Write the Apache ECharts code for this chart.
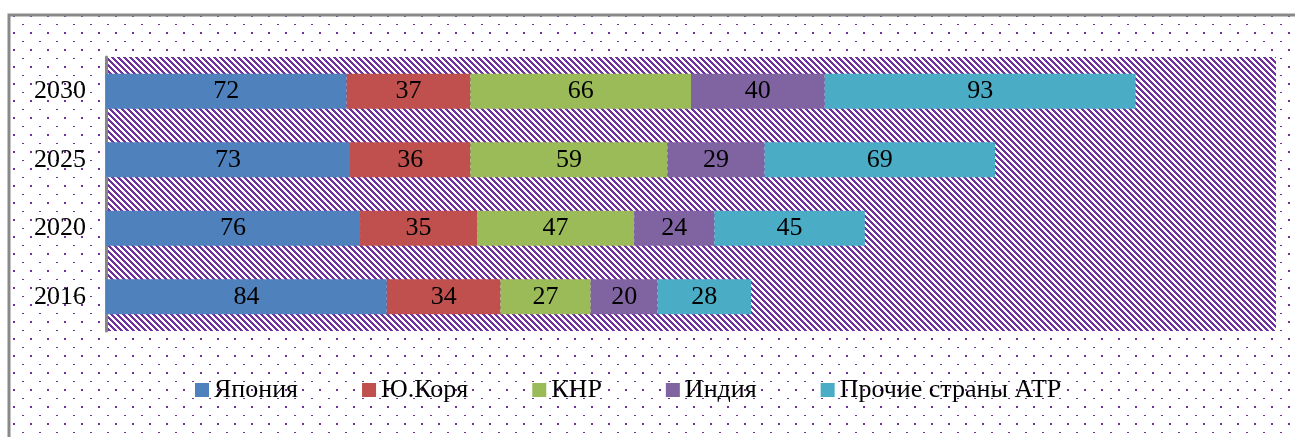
<!DOCTYPE html>
<html>
<head>
<meta charset="utf-8">
<script src="https://cdn.jsdelivr.net/npm/echarts@6/dist/echarts.min.js"></script>
<style>
	html, body { margin: 0; padding: 0; background: #fff; }
	#chart { width: 1295px; height: 437px; }
</style>
</head>
<body>
<div id="chart"></div>
<script>
"use strict";

var years = ['2016', '2020', '2025', '2030'];
var seriesNames = ['Япония', 'Ю.Коря', 'КНР', 'Индия', 'Прочие страны АТР'];
var japan = [84, 76, 73, 72];
var korea = [34, 35, 36, 37];
var china = [27, 47, 59, 66];
var india = [20, 24, 29, 40];
var others = [28, 45, 69, 93];

var colors = ['#4F81BD', '#C0504D', '#9BBB59', '#8064A2', '#4BACC6'];
var purple = '#7030A0';
var fontFamily = '"Liberation Serif", "Times New Roman", serif';

// dotted fill of the outer chart area
function makeDots() {
	var c = document.createElement('canvas');
	c.width = 17;
	c.height = 17;
	var ctx = c.getContext('2d');
	ctx.fillStyle = '#fff';
	ctx.fillRect(0, 0, 17, 17);
	ctx.fillStyle = purple;
	ctx.fillRect(5, 7, 2, 1);
	ctx.fillRect(13, 15, 2, 2);
	return c;
}

// diagonal stripes of the plot area, drawn pixel by pixel so they stay crisp
function makeStripes() {
	var s = 6;
	var c = document.createElement('canvas');
	c.width = s;
	c.height = s;
	var ctx = c.getContext('2d');
	ctx.fillStyle = '#fff';
	ctx.fillRect(0, 0, s, s);
	ctx.fillStyle = purple;
	for (var y = 0; y < s; y++) {
		for (var x = 0; x < s; x++) {
			if (((x - y) % s + s) % s < 3) {
				ctx.fillRect(x, y, 1, 1);
			}
		}
	}
	return c;
}

var myChart = echarts.init(document.getElementById('chart'));

var data = [japan, korea, china, india, others];
var series = [];
for (var i = 0; i < seriesNames.length; i++) {
	series.push({
		name: seriesNames[i],
		type: 'bar',
		stack: 'total',
		barWidth: 35,
		data: data[i],
		itemStyle: { color: colors[i] },
		label: {
			show: true,
			position: 'inside',
			color: '#000',
			fontSize: 26,
			fontFamily: fontFamily
		}
	});
}

var option = {
	backgroundColor: '#fff',
	animation: false,
	graphic: [{
		type: 'rect',
		z: -10,
		silent: true,
		shape: { x: 9, y: 15, width: 1400, height: 600 },
		style: {
			fill: { image: makeDots(), repeat: 'repeat' },
			stroke: '#898989',
			lineWidth: 3
		}
	}],
	legend: {
		left: 190,
		top: 372,
		itemWidth: 14,
		itemHeight: 14,
		itemGap: 64,
		icon: 'rect',
		textStyle: {
			color: '#000',
			fontSize: 26,
			fontFamily: fontFamily
		},
		data: seriesNames
	},
	grid: {
		show: true,
		left: 106,
		right: 19,
		top: 57,
		bottom: 106,
		borderWidth: 0,
		backgroundColor: { image: makeStripes(), repeat: 'repeat' }
	},
	xAxis: {
		type: 'value',
		min: 0,
		max: 350,
		show: false
	},
	yAxis: {
		type: 'category',
		data: years,
		axisLine: { show: true, lineStyle: { color: '#868686', width: 3 } },
		axisTick: { show: false },
		axisLabel: {
			color: '#000',
			fontSize: 26,
			fontFamily: fontFamily,
			margin: 20
		}
	},
	series: series
};

myChart.setOption(option);
</script>
</body>
</html>
